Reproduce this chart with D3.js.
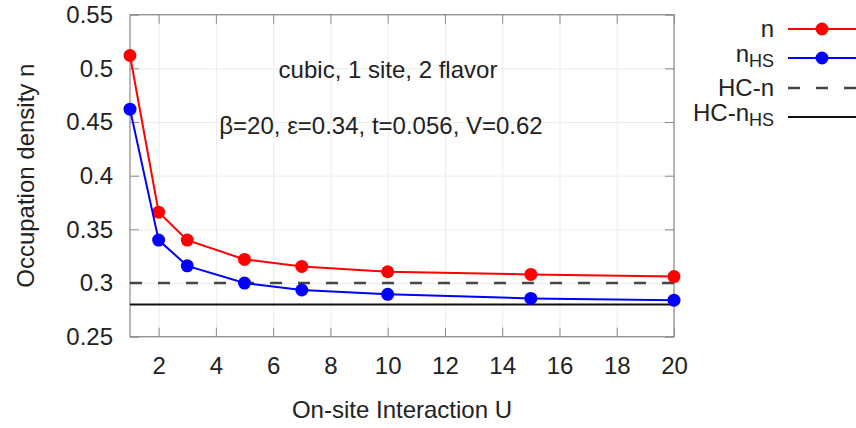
<!DOCTYPE html>
<html>
<head>
<meta charset="utf-8">
<script src="https://cdn.jsdelivr.net/npm/d3@7"></script>
<style>
  body { margin: 0; background: #fff; }
  svg { font-family: "Liberation Sans", Arial, sans-serif; }
  .grid line { stroke: #ececec; stroke-width: 1; }
  .grid path { display: none; }
  .axis path, .axis line { stroke: #8a8a8a; }
  .axis text { fill: #222; font-size: 24px; }
</style>
</head>
<body>
<div id="chart"></div>
<script>
// data
var uValues   = [1, 2, 3, 5, 7, 10, 15, 20];
var nValues   = [0.512, 0.366, 0.340, 0.322, 0.3155, 0.3105, 0.308, 0.306];
var nhsValues = [0.462, 0.340, 0.316, 0.300, 0.2935, 0.2895, 0.2857, 0.284];
var hcN   = 0.30;
var hcNhs = 0.28;
var xTicks = [2, 4, 6, 8, 10, 12, 14, 16, 18, 20];
var yTicks = [0.25, 0.3, 0.35, 0.4, 0.45, 0.5, 0.55];

var w = 856, h = 428;
var pLeft = 130, pRight = 674, pTop = 14.7, pBottom = 336.7;

var svg = d3.select("#chart").append("svg")
  .attr("width", w)
  .attr("height", h);

var xScale = d3.scaleLinear().domain([1, 20]).range([pLeft, pRight]);
var yScale = d3.scaleLinear().domain([0.25, 0.55]).range([pBottom, pTop]);

// faint grid
svg.append("g").attr("class", "grid")
  .attr("transform", "translate(0," + pBottom + ")")
  .call(d3.axisBottom(xScale).tickValues(xTicks).tickSize(-(pBottom - pTop)).tickFormat(""));
svg.append("g").attr("class", "grid")
  .attr("transform", "translate(" + pLeft + ",0)")
  .call(d3.axisLeft(yScale).tickValues(yTicks).tickSize(-(pRight - pLeft)).tickFormat(""));

// frame
svg.append("rect")
  .attr("x", pLeft).attr("y", pTop)
  .attr("width", pRight - pLeft).attr("height", pBottom - pTop)
  .attr("fill", "none").attr("stroke", "#8a8a8a").attr("stroke-width", 1.2);

// axes, ticks pointing inward, mirrored
var xAxis = svg.append("g").attr("class", "axis")
  .attr("transform", "translate(0," + pBottom + ")")
  .call(d3.axisBottom(xScale).tickValues(xTicks).tickSizeInner(-9).tickSizeOuter(0).tickPadding(20));
xAxis.select(".domain").remove();

var yAxis = svg.append("g").attr("class", "axis")
  .attr("transform", "translate(" + pLeft + ",0)")
  .call(d3.axisLeft(yScale).tickValues(yTicks).tickSizeInner(-9).tickSizeOuter(0).tickPadding(17)
    .tickFormat(function(d) { return String(+d.toFixed(2)); }));
yAxis.select(".domain").remove();

var xTop = svg.append("g").attr("class", "axis")
  .attr("transform", "translate(0," + pTop + ")")
  .call(d3.axisTop(xScale).tickValues(xTicks).tickSizeInner(-9).tickSizeOuter(0).tickFormat(""));
xTop.select(".domain").remove();

var yRight = svg.append("g").attr("class", "axis")
  .attr("transform", "translate(" + pRight + ",0)")
  .call(d3.axisRight(yScale).tickValues(yTicks).tickSizeInner(-9).tickSizeOuter(0).tickFormat(""));
yRight.select(".domain").remove();

// horizontal reference lines
svg.append("line")
  .attr("x1", pLeft).attr("x2", pRight)
  .attr("y1", yScale(hcN)).attr("y2", yScale(hcN))
  .attr("stroke", "#444").attr("stroke-width", 2.5)
  .attr("stroke-dasharray", "12,16");
svg.append("line")
  .attr("x1", pLeft).attr("x2", pRight)
  .attr("y1", yScale(hcNhs)).attr("y2", yScale(hcNhs))
  .attr("stroke", "#111").attr("stroke-width", 2);

// series
var series = [
  { name: "n", values: nValues, color: "#ff0000" },
  { name: "nhs", values: nhsValues, color: "#0000ff" }
];

var line = d3.line()
  .x(function(d, i) { return xScale(uValues[i]); })
  .y(function(d) { return yScale(d); });

series.forEach(function(s) {
  svg.append("path")
    .datum(s.values)
    .attr("fill", "none")
    .attr("stroke", s.color)
    .attr("stroke-width", 2)
    .attr("d", line);
  svg.selectAll(null)
    .data(s.values)
    .enter().append("circle")
    .attr("cx", function(d, i) { return xScale(uValues[i]); })
    .attr("cy", function(d) { return yScale(d); })
    .attr("r", 6.5)
    .attr("fill", s.color);
});

// annotations
svg.append("text")
  .attr("x", 388).attr("y", 78)
  .attr("text-anchor", "middle")
  .attr("font-size", 24).attr("fill", "#222")
  .text("cubic, 1 site, 2 flavor");
svg.append("text")
  .attr("x", 381).attr("y", 134)
  .attr("text-anchor", "middle")
  .attr("font-size", 24).attr("fill", "#222")
  .text("β=20, ε=0.34, t=0.056, V=0.62");

// axis titles
svg.append("text")
  .attr("transform", "translate(34," + ((pTop + pBottom) / 2) + ") rotate(-90)")
  .attr("text-anchor", "middle")
  .attr("font-size", 24).attr("fill", "#222")
  .text("Occupation density n");
svg.append("text")
  .attr("x", (pLeft + pRight) / 2).attr("y", 418)
  .attr("text-anchor", "middle")
  .attr("font-size", 24).attr("fill", "#222")
  .text("On-site Interaction U");

// legend
var legY = [29, 58, 88, 117];
var lx1 = 788, lx2 = 862, lmid = 822, ltx = 774;
var legend = svg.append("g").attr("font-size", 24).attr("fill", "#222");

function legendLabel(y, parts) {
  var t = legend.append("text").attr("x", ltx).attr("y", y + 8).attr("text-anchor", "end");
  parts.forEach(function(p) {
    var sp = t.append("tspan").text(p.text);
    if (p.sub) sp.attr("font-size", 18).attr("dy", 5);
  });
}

legend.append("line").attr("x1", lx1).attr("x2", lx2).attr("y1", legY[0]).attr("y2", legY[0])
  .attr("stroke", "#ff0000").attr("stroke-width", 2);
legend.append("circle").attr("cx", lmid).attr("cy", legY[0]).attr("r", 6.5).attr("fill", "#ff0000");
legendLabel(legY[0], [{ text: "n" }]);

legend.append("line").attr("x1", lx1).attr("x2", lx2).attr("y1", legY[1]).attr("y2", legY[1])
  .attr("stroke", "#0000ff").attr("stroke-width", 2);
legend.append("circle").attr("cx", lmid).attr("cy", legY[1]).attr("r", 6.5).attr("fill", "#0000ff");
legendLabel(legY[1] - 4, [{ text: "n" }, { text: "HS", sub: true }]);

legend.append("line").attr("x1", lx1).attr("x2", lx2).attr("y1", legY[2]).attr("y2", legY[2])
  .attr("stroke", "#444").attr("stroke-width", 2.5).attr("stroke-dasharray", "12,16");
legendLabel(legY[2], [{ text: "HC-n" }]);

legend.append("line").attr("x1", lx1).attr("x2", lx2).attr("y1", legY[3]).attr("y2", legY[3])
  .attr("stroke", "#111").attr("stroke-width", 2);
legendLabel(legY[3] - 4, [{ text: "HC-n" }, { text: "HS", sub: true }]);
</script>
</body>
</html>
